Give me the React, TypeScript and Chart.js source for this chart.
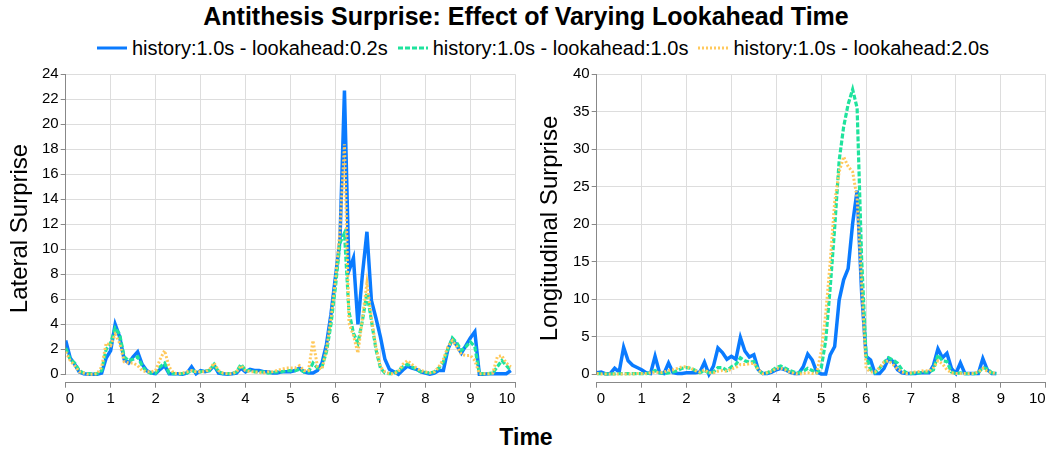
import React, { useEffect, useRef } from 'react';
import { Chart, registerables } from 'chart.js';

Chart.register(...registerables);

const FONT = "'Liberation Sans', Arial, Helvetica, sans-serif";
Chart.defaults.font.family = FONT;

// ---- data ----
const times = [
  0, 0.1, 0.2, 0.3, 0.4, 0.5, 0.6, 0.7, 0.8, 0.9,
  1, 1.1, 1.2, 1.3, 1.4, 1.5, 1.6, 1.7, 1.8, 1.9,
  2, 2.1, 2.2, 2.3, 2.4, 2.5, 2.6, 2.7, 2.8, 2.9,
  3, 3.1, 3.2, 3.3, 3.4, 3.5, 3.6, 3.7, 3.8, 3.9,
  4, 4.1, 4.2, 4.3, 4.4, 4.5, 4.6, 4.7, 4.8, 4.9,
  5, 5.1, 5.2, 5.3, 5.4, 5.5, 5.6, 5.7, 5.8, 5.9,
  6, 6.1, 6.2, 6.3, 6.4, 6.5, 6.6, 6.7, 6.8, 6.9,
  7, 7.1, 7.2, 7.3, 7.4, 7.5, 7.6, 7.7, 7.8, 7.9,
  8, 8.1, 8.2, 8.3, 8.4, 8.5, 8.6, 8.7, 8.8, 8.9,
  9, 9.1, 9.2, 9.3, 9.4, 9.5, 9.6, 9.7, 9.8, 9.9,
];

const seriesLabels = [
  'history:1.0s - lookahead:0.2s',
  'history:1.0s - lookahead:1.0s',
  'history:1.0s - lookahead:2.0s',
];

const lateral02 = [
  2.7, 1.3, 0.8, 0.2, 0.05, 0, 0, 0, 0.1, 1.3,
  1.9, 4.0, 3.0, 1.2, 0.9, 1.4, 1.8, 0.8, 0.3, 0.1,
  0.05, 0.4, 0.7, 0.05, 0.05, 0.05, 0, 0.1, 0.6, 0.05,
  0.3, 0.2, 0.3, 0.7, 0.1, 0.05, 0, 0.05, 0.1, 0.5,
  0.2, 0.4, 0.3, 0.3, 0.2, 0.2, 0.1, 0.1, 0.2, 0.2,
  0.2, 0.3, 0.5, 0.2, 0.1, 0.1, 0.3, 0.9, 2.4, 4.8,
  7.8, 10.7, 22.7, 8.3, 9.3, 4.0, 8.0, 11.4, 5.9, 4.5,
  3.0, 1.2, 0.4, 0.2, 0.0, 0.35, 0.65, 0.5, 0.4, 0.2,
  0.1, 0.0, 0.1, 0.3, 0.3, 2.0, 2.8, 2.3, 1.7, 2.3,
  2.9, 3.4, 0.0, 0.0, 0.05, 0.05, 0.05, 0.05, 0.05, 0.3,
];

const lateral10 = [
  2.1, 1.2, 0.9, 0.3, 0.1, 0.05, 0.05, 0.05, 0.3, 2.0,
  2.5, 3.7, 3.2, 1.4, 1.1, 1.2, 1.4, 0.7, 0.2, 0.1,
  0.1, 0.6, 0.9, 0.1, 0.05, 0.05, 0.05, 0.1, 0.3, 0.2,
  0.2, 0.3, 0.3, 0.8, 0.2, 0.05, 0.05, 0.05, 0.2, 0.8,
  0.3, 0.3, 0.2, 0.2, 0.2, 0.1, 0.15, 0.2, 0.2, 0.3,
  0.3, 0.3, 0.4, 0.2, 0.2, 0.9, 0.5, 0.6, 1.8, 4.0,
  7.0, 10.5, 11.3, 5.0, 3.3, 2.5, 4.3, 6.5, 4.3, 2.0,
  0.5, 0.1, 0.05, 0.05, 0.3, 0.6, 0.8, 0.6, 0.4, 0.2,
  0.15, 0.1, 0.2, 0.5, 1.0, 2.0, 2.9, 2.5, 1.9, 2.2,
  2.6, 2.2, 0.05, 0.05, 0.05, 0.1, 0.6, 1.1, 0.7, 0.3,
];

const lateral20 = [
  1.8, 1.1, 0.7, 0.2, 0.1, 0.0, 0.0, 0.05, 0.6, 2.5,
  2.3, 3.2, 2.5, 1.0, 0.9, 0.9, 0.7, 0.3, 0.2, 0.2,
  0.3, 1.2, 1.9, 0.6, 0.1, 0.05, 0.1, 0.2, 0.3, 0.2,
  0.2, 0.2, 0.4, 0.9, 0.3, 0.1, 0.05, 0.05, 0.2, 0.7,
  0.3, 0.2, 0.2, 0.15, 0.1, 0.2, 0.2, 0.3, 0.4, 0.5,
  0.5, 0.5, 0.7, 0.3, 0.3, 2.7, 0.6, 0.4, 2.0, 4.5,
  7.5, 11.5, 18.4, 4.1, 3.1, 1.7, 4.5, 7.3, 4.5, 2.2,
  0.6, 0.2, 0.05, 0.05, 0.2, 0.8, 1.1, 0.8, 0.5, 0.3,
  0.2, 0.1, 0.2, 0.6, 1.2, 2.2, 2.7, 2.2, 1.6, 1.5,
  1.5, 1.1, 0.05, 0.05, 0.05, 0.1, 1.4, 1.5, 0.9, 0.6,
];

const longitudinal02 = [
  0.2, 0.3, 0.05, 0.1, 0.8, 0.3, 3.6, 1.8, 1.2, 0.9,
  0.6, 0.2, 0.1, 2.4, 0.2, 0.1, 1.5, 0.2, 0.1, 0.1,
  0.2, 0.2, 0.2, 0.3, 1.6, 0.0, 1.1, 3.5, 2.9, 2.0,
  2.4, 2.0, 4.9, 3.1, 2.3, 2.6, 0.6, 0.1, 0.1, 0.3,
  0.6, 0.8, 0.6, 0.3, 0.1, 0.1, 1.0, 2.7, 1.9, 0.3,
  0.05, 0.05, 2.6, 3.7, 9.9, 12.6, 14.1, 20.1, 24.5, 11.0,
  2.4, 1.9, 0.1, 0.1, 0.8, 2.1, 1.7, 0.6, 0.2, 0.1,
  0.1, 0.1, 0.2, 0.2, 0.2, 1.2, 3.4, 2.2, 2.8, 0.8,
  0.1, 1.5, 0.1, 0.1, 0.1, 0.1, 2.1, 0.6, 0.1, 0.1,
];

const longitudinal10 = [
  0.1, 0.1, 0.05, 0.05, 0.05, 0.1, 0.1, 0.1, 0.1, 0.1,
  0.1, 0.1, 0.2, 0.5, 0.2, 0.1, 0.2, 0.3, 0.5, 0.8,
  0.9, 0.8, 0.5, 0.2, 0.5, 0.2, 0.3, 0.9, 0.9, 0.5,
  1.0, 1.3, 2.2, 1.8, 1.6, 1.7, 0.5, 0.1, 0.2, 0.5,
  0.9, 1.1, 0.8, 0.5, 0.3, 0.2, 0.4, 0.8, 0.5, 0.2,
  0.8, 4.5, 11.5, 19.5, 28.5, 33.0, 36.0, 38.0, 35.5, 15.5,
  2.5, 0.6, 0.2, 0.8, 1.6, 2.2, 1.9, 1.5, 0.6, 0.2,
  0.1, 0.2, 0.2, 0.3, 0.3, 0.6, 2.6, 1.8, 1.7, 0.3,
  0.1, 0.2, 0.1, 0.1, 0.1, 0.2, 0.9, 0.7, 0.2, 0.1,
];

const longitudinal20 = [
  0.1, 0.05, 0.05, 0.05, 0.05, 0.05, 0.05, 0.05, 0.05, 0.1,
  0.1, 0.1, 0.2, 0.3, 0.2, 0.3, 0.5, 0.6, 0.8, 1.0,
  1.0, 0.8, 0.5, 0.3, 0.6, 0.2, 0.2, 0.4, 0.5, 0.4,
  0.7, 0.9, 1.3, 1.3, 1.4, 1.5, 0.6, 0.1, 0.2, 0.4,
  0.8, 0.8, 0.6, 0.3, 0.1, 0.05, 0.1, 0.2, 0.1, 0.2,
  3.0, 8.0, 15.0, 23.0, 27.0, 29.0, 27.7, 27.0, 23.5, 12.0,
  0.8, 0.3, 0.3, 0.9, 1.6, 1.8, 1.3, 0.7, 0.3, 0.1,
  0.2, 0.3, 0.4, 0.5, 0.4, 0.9, 1.8, 1.4, 0.6, 0.2,
  0.1, 0.1, 0.1, 0.1, 0.1, 0.3, 0.8, 0.4, 0.2, 0.1,
];

const xTicks = [0, 1, 2, 3, 4, 5, 6, 7, 8, 9, 10];
const lateralTicks = [0, 2, 4, 6, 8, 10, 12, 14, 16, 18, 20, 22, 24];
const longitudinalTicks = [0, 5, 10, 15, 20, 25, 30, 35, 40];

// ---- styles ----
const COLORS = ['#0a7bff', '#1fe39d', '#ffc95c'];
const DASHES: number[][] = [[], [5, 2], [2, 2]];
const WIDTHS = [3.5, 3.2, 3];
const ORDERS = [2, 1, 0];

const gapCover = {
  id: 'gapCover',
  beforeDatasetsDraw(chart: any) {
    const { ctx, chartArea, scales } = chart;
    const y0 = scales.y.getPixelForValue(0);
    const top = Math.floor(y0) + 1;
    const bottom = Math.floor(chartArea.bottom);
    if (bottom > top) {
      ctx.save();
      ctx.fillStyle = '#ffffff';
      ctx.fillRect(chartArea.left - 2, top, chartArea.right - chartArea.left + 4, bottom - top);
      ctx.restore();
    }
  },
};

function makeConfig(
  series: number[][],
  xs: number[],
  yTicks: number[],
  gapPx: number,
  yTitle: string,
  yWidth: number,
  padRight: number
): any {
  const yMax = yTicks[yTicks.length - 1];
  const plotH = 300;
  const yMin = -(gapPx * yMax) / plotH;
  return {
    type: 'line',
    data: {
      datasets: series.map((vals, i) => ({
        label: seriesLabels[i],
        data: vals.map((v, k) => ({ x: xs[k], y: v })),
        borderColor: COLORS[i],
        backgroundColor: COLORS[i],
        borderWidth: WIDTHS[i],
        borderDash: DASHES[i],
        pointRadius: 0,
        tension: 0,
        fill: false,
        order: ORDERS[i],
      })),
    },
    options: {
      responsive: false,
      animation: false,
      layout: { padding: { left: 0, top: 14.3, right: padRight, bottom: 0 } },
      plugins: { legend: { display: false }, tooltip: { enabled: false }, title: { display: false } },
      events: [],
      scales: {
        x: {
          type: 'linear',
          min: 0,
          max: 10,
          afterBuildTicks: (scale: any) => {
            scale.ticks = xTicks.map((v) => ({ value: v }));
          },
          afterFit: (scale: any) => {
            scale.height = 32.3;
          },
          ticks: {
            align: 'inner',
            color: '#000',
            font: { size: 15 },
            padding: 2,
            maxRotation: 0,
            callback: (v: any) => String(v),
          },
          grid: { color: '#dddddd', tickColor: '#888888', tickLength: 5, lineWidth: 1 },
          border: { color: '#888888', width: 1 },
        },
        y: {
          type: 'linear',
          min: yMin,
          max: yMax,
          afterBuildTicks: (scale: any) => {
            scale.ticks = yTicks.map((v) => ({ value: v }));
          },
          afterFit: (scale: any) => {
            scale.width = yWidth;
          },
          ticks: {
            color: '#000',
            font: { size: 15 },
            padding: 2,
            callback: (v: any) => String(v),
          },
          grid: { color: '#dddddd', tickColor: '#888888', tickLength: 5, lineWidth: 1 },
          border: { color: '#888888', width: 1 },
          title: {
            display: true,
            text: yTitle,
            color: '#000',
            font: { size: 24 },
            padding: { top: 6, bottom: 0 },
          },
        },
      },
    },
    plugins: [gapCover],
  };
}

function SubChart(props: { config: any; left: number; top: number; width: number; height: number }) {
  const ref = useRef<HTMLCanvasElement>(null);
  useEffect(() => {
    const chart = new Chart(ref.current as HTMLCanvasElement, props.config);
    return () => chart.destroy();
  }, []);
  return (
    <canvas
      ref={ref}
      width={props.width}
      height={props.height}
      style={{ position: 'absolute', left: props.left, top: props.top, width: props.width, height: props.height }}
    />
  );
}

function LegendSample(props: { color: string; dash: number[] }) {
  return (
    <svg width={30} height={8} style={{ marginRight: 5, display: 'block' }}>
      <line
        x1={0}
        y1={4}
        x2={30}
        y2={4}
        stroke={props.color}
        strokeWidth={3}
        strokeDasharray={props.dash.length ? props.dash.join(' ') : undefined}
      />
    </svg>
  );
}

export default function App() {
  const leftConfig = makeConfig([lateral02, lateral10, lateral20], times, lateralTicks, 8.4, 'Lateral Surprise', 65.7, 14.7);
  const rightTimes = times.slice(0, longitudinal02.length);
  const rightConfig = makeConfig(
    [longitudinal02, longitudinal10, longitudinal20],
    rightTimes,
    longitudinalTicks,
    8.4,
    'Longitudinal Surprise',
    66.7,
    6.3
  );
  return (
    <div
      style={{
        position: 'absolute',
        left: 0,
        top: 0,
        width: 1052,
        height: 455,
        background: '#ffffff',
        fontFamily: FONT,
        color: '#000',
        overflow: 'hidden',
      }}
    >
      <div
        style={{
          position: 'absolute',
          left: 0,
          top: 4,
          width: 1052,
          textAlign: 'center',
          fontWeight: 'bold',
          fontSize: 25,
          lineHeight: '25px',
        }}
      >
        Antithesis Surprise: Effect of Varying Lookahead Time
      </div>
      <div
        style={{
          position: 'absolute',
          left: 97,
          top: 38,
          display: 'flex',
          alignItems: 'center',
          gap: 10,
          fontSize: 20,
          lineHeight: '20px',
          whiteSpace: 'nowrap',
        }}
      >
        {seriesLabels.map((lab, i) => (
          <div key={lab} style={{ display: 'flex', alignItems: 'center' }}>
            <LegendSample color={COLORS[i]} dash={DASHES[i]} />
            <span>{lab}</span>
          </div>
        ))}
      </div>
      <SubChart config={leftConfig} left={0} top={60} width={530} height={355} />
      <SubChart config={rightConfig} left={530} top={60} width={522} height={355} />
      <div
        style={{
          position: 'absolute',
          left: 0,
          top: 426,
          width: 1052,
          textAlign: 'center',
          fontWeight: 'bold',
          fontSize: 23,
          lineHeight: '23px',
        }}
      >
        Time
      </div>
    </div>
  );
}
